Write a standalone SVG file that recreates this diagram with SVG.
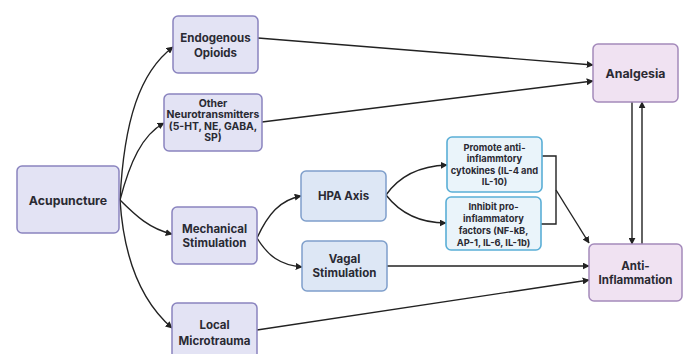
<svg xmlns="http://www.w3.org/2000/svg" width="688" height="354" viewBox="0 0 688 354">
<style>
text{font-family:Inter,Roboto,"Liberation Sans",Arial,sans-serif;font-weight:700;fill:#2a2a33;text-anchor:middle;dominant-baseline:central}
.src{fill:#e3e3f4;stroke:#8a84bf;stroke-width:1.5}
.mid{fill:#dde7f5;stroke:#7f9fcb;stroke-width:1.5}
.cyt{fill:#eaf4fa;stroke:#5aaed6;stroke-width:1.6}
.out{fill:#f0e2f2;stroke:#a48abb;stroke-width:1.5}
.c{fill:none;stroke:#222;stroke-width:1.4}
.a{marker-end:url(#ah)}
.f12{font-size:12.3px}
.f11{font-size:11.5px}
.f10{font-size:10.4px}
.f9{font-size:9.3px}
</style>
<defs>
<marker id="ah" viewBox="0 0 10 10" refX="9" refY="5" markerWidth="7" markerHeight="7" markerUnits="userSpaceOnUse" orient="auto">
<path d="M0,0 L10,5 L0,10 z" fill="#222"/>
</marker>
</defs>
<rect width="688" height="354" fill="#ffffff"/>
<g id="connectors">
<path class="c a" d="M120,200 C124,120 140,72 173,47"/>
<path class="c a" d="M120,200 C130,162 142,135 164,123"/>
<path class="c a" d="M120,200 C136,216 150,229 172,234"/>
<path class="c a" d="M120,200 C124,262 142,302 172,328"/>
<path class="c a" d="M258,38 L593,65"/>
<path class="c a" d="M262,122 L593,81"/>
<path class="c a" d="M257,238 C268,214 280,200 301,196"/>
<path class="c a" d="M257,238 C268,256 280,265 302,267"/>
<path class="c a" d="M386,195 C400,175 420,166 447,165"/>
<path class="c a" d="M386,195 C400,213 420,223 446,223"/>
<path class="c" d="M542,156 L556,156 L556,224 L541,224"/>
<path class="c a" d="M556,190 L589,243"/>
<path class="c a" d="M387,266 L589,266"/>
<path class="c a" d="M257,330 L589,280"/>
<path class="c a" d="M632,102 L632,244"/>
<path class="c a" d="M642,244 L642,102"/>
</g>
<g id="acupuncture"><rect class="src" x="17" y="166" width="102" height="67" rx="5"/><text class="f12" x="68" y="200">Acupuncture</text></g>
<g id="endogenous-opioids"><rect class="src" x="173" y="16" width="85" height="57" rx="5"/><text class="f11" x="215.5" y="38">Endogenous</text><text class="f11" x="215.5" y="53">Opioids</text></g>
<g id="other-neurotransmitters"><rect class="src" x="164" y="94" width="98" height="57" rx="5"/><text class="f10" x="213" y="103">Other</text><text class="f10" x="213" y="114.5">Neurotransmitters</text><text class="f10" x="213" y="126">(5-HT, NE, GABA,</text><text class="f10" x="213" y="137.5">SP)</text></g>
<g id="mechanical-stimulation"><rect class="src" x="172" y="207" width="85" height="57" rx="5"/><text class="f11" x="214.5" y="229">Mechanical</text><text class="f11" x="214.5" y="243">Stimulation</text></g>
<g id="local-microtrauma"><rect class="src" x="172" y="303" width="85" height="57" rx="5"/><text class="f11" x="214.5" y="325">Local</text><text class="f11" x="214.5" y="341">Microtrauma</text></g>
<g id="hpa-axis"><rect class="mid" x="301" y="171" width="85" height="50" rx="5"/><text class="f11" x="343.5" y="196">HPA Axis</text></g>
<g id="vagal-stimulation"><rect class="mid" x="302" y="241" width="85" height="50" rx="5"/><text class="f11" x="344.5" y="259">Vagal</text><text class="f11" x="344.5" y="273">Stimulation</text></g>
<g id="promote-anti-inflammatory"><rect class="cyt" x="447" y="137" width="95" height="55" rx="5"/><text class="f9" x="494.5" y="147">Promote anti-</text><text class="f9" x="494.5" y="158.5">inflammtory</text><text class="f9" x="494.5" y="170">cytokines (IL-4 and</text><text class="f9" x="494.5" y="181.5">IL-10)</text></g>
<g id="inhibit-pro-inflammatory"><rect class="cyt" x="446" y="197" width="95" height="53" rx="5"/><text class="f9" x="493.5" y="206">Inhibit pro-</text><text class="f9" x="493.5" y="218">inflammatory</text><text class="f9" x="493.5" y="230">factors (NF-kB,</text><text class="f9" x="493.5" y="242">AP-1, IL-6, IL-1b)</text></g>
<g id="analgesia"><rect class="out" x="593" y="44" width="85" height="58" rx="5"/><text class="f12" x="635.5" y="73">Analgesia</text></g>
<g id="anti-inflammation"><rect class="out" x="589" y="244" width="93" height="57" rx="5"/><text class="f11" x="635.5" y="266">Anti-</text><text class="f11" x="635.5" y="280">Inflammation</text></g>
</svg>
